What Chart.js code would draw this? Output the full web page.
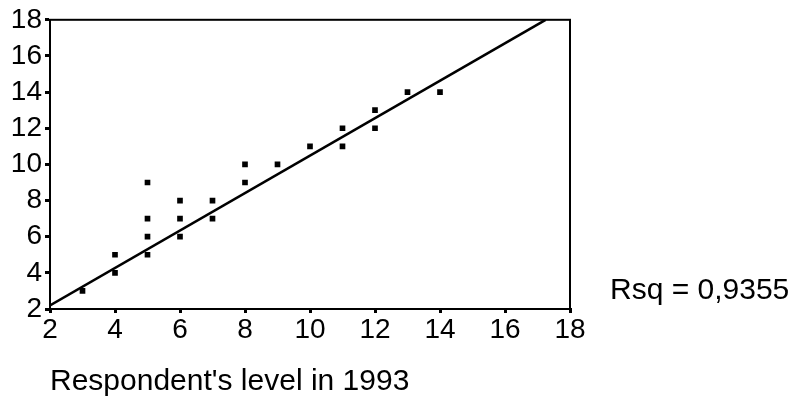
<!DOCTYPE html>
<html>
<head>
<meta charset="utf-8">
<script src="https://cdn.jsdelivr.net/npm/chart.js@4.4.1/dist/chart.umd.min.js"></script>
<style>
  body { margin: 0; background: #fff; }
  #wrap { position: relative; width: 792px; height: 417px; }
  #rsq {
    position: absolute; left: 610px; top: 272px;
    font-family: 'Liberation Sans', Arial, sans-serif; font-size: 30px; color: #000;
    white-space: nowrap;
  }
</style>
</head>
<body>
<div id="wrap">
  <canvas id="chart" width="792" height="417"></canvas>
  <div id="rsq">Rsq = 0,9355</div>
</div>
<script>
// respondent's level in 1993 (x) against the other year (y)
var level1993 = [3, 4, 4, 5, 5, 5, 5, 6, 6, 6, 7, 7, 8, 8, 9, 10, 11, 11, 12, 12, 13, 14];
var levelOther = [3, 4, 5, 5, 6, 7, 9, 6, 7, 8, 7, 8, 9, 10, 10, 11, 11, 12, 12, 13, 14, 14];
// fitted line (ends at the top of the frame)
var fitX = [2, 17.25];
var fitY = [2.2, 18];
var tickValues = [2, 4, 6, 8, 10, 12, 14, 16, 18];

var points = level1993.map(function(v, i) { return {x: v, y: levelOther[i]}; });
var fitLine = fitX.map(function(v, i) { return {x: v, y: fitY[i]}; });

var font = "'Liberation Sans', Arial, sans-serif";

// closes the frame on top and right
var frame = {
    id: 'frame',
    afterDraw: function(chart) {
        var a = chart.chartArea, ctx = chart.ctx;
        ctx.save();
        ctx.strokeStyle = '#000';
        ctx.lineWidth = 2;
        ctx.strokeRect(a.left, a.top, a.right - a.left, a.bottom - a.top);
        ctx.restore();
    }
};

var ctx = document.getElementById('chart').getContext('2d');
var chart = new Chart(ctx, {
    type: 'scatter',
    data: {
        datasets: [{
            label: 'fit',
            type: 'line',
            data: fitLine,
            borderColor: '#000',
            borderWidth: 2.5,
            pointRadius: 0,
            fill: false,
            tension: 0
        }, {
            label: 'respondents',
            data: points,
            pointStyle: 'rect',
            pointRadius: 4,
            backgroundColor: '#000',
            borderColor: '#000',
            borderWidth: 0
        }]
    },
    options: {
        responsive: false,
        animation: false,
        layout: { padding: { left: 0, top: 18, right: 222, bottom: 0 } },
        plugins: { legend: { display: false }, tooltip: { enabled: false } },
        scales: {
            x: {
                type: 'linear', min: 2, max: 18,
                afterBuildTicks: function(s) { s.ticks = tickValues.map(function(v) { return {value: v}; }); },
                afterFit: function(s) { s.height = 108; },
                border: { display: true, color: '#000', width: 2 },
                grid: { drawOnChartArea: false, drawTicks: true, tickLength: 4, color: '#000', lineWidth: 3 },
                ticks: { color: '#000', font: { family: font, size: 28 }, padding: 0, maxRotation: 0, autoSkip: false },
                title: {
                    display: true, text: "Respondent's level in 1993", align: 'start',
                    color: '#000', font: { family: font, size: 30 }, padding: { top: 0, bottom: 17 }
                }
            },
            y: {
                type: 'linear', min: 2, max: 18,
                afterBuildTicks: function(s) { s.ticks = tickValues.map(function(v) { return {value: v}; }); },
                afterFit: function(s) { s.width = 50; },
                border: { display: true, color: '#000', width: 2 },
                grid: { drawOnChartArea: false, drawTicks: true, tickLength: 5, color: '#000', lineWidth: 3 },
                ticks: { color: '#000', font: { family: font, size: 28 }, padding: 3, autoSkip: false }
            }
        }
    },
    plugins: [frame]
});
</script>
</body>
</html>
